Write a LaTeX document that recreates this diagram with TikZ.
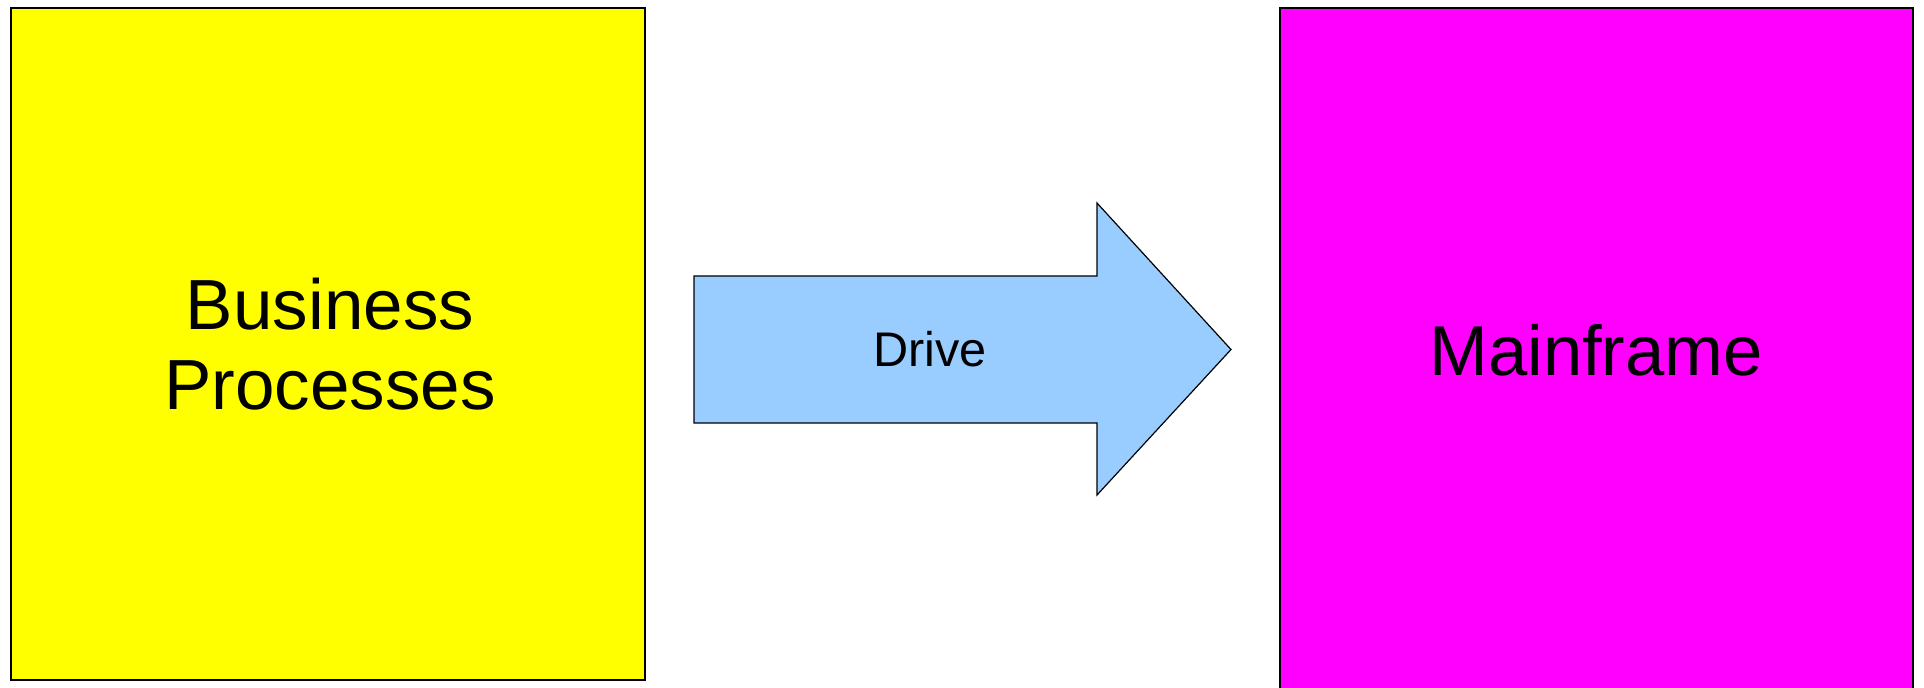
\documentclass[tikz,border=0pt]{standalone}
\usepackage{fontspec}
\setmainfont{Liberation Sans}
\definecolor{arrowblue}{HTML}{99CCFF}
\definecolor{boxyellow}{HTML}{FFFF00}
\definecolor{boxmagenta}{HTML}{FF00FF}
\tikzset{
	box/.style={draw=black, line width=1pt, inner sep=0pt, align=center},
	label/.style={inner sep=0pt, align=center}
}
\begin{document}
\begin{tikzpicture}[x=0.5pt, y=-0.5pt]
		\useasboundingbox (0,0) rectangle (1924,687);
		% Left box
		\node[box, fill=boxyellow, minimum width=317pt, minimum height=336pt] (business) at (328,344) {};
		\node[label, font=\fontsize{35.5}{40}\selectfont] (bp) at (330,344) {Business\\Processes};
		% Right box
		\node[box, fill=boxmagenta, minimum width=316.5pt, minimum height=346pt] (mainframe) at (1596.5,354) {};
		\node[label, font=\fontsize{35.3}{42}\selectfont] (mf) at (1596,350) {Mainframe};
		% Arrow
		\filldraw[fill=arrowblue, draw=black, line width=0.6pt] (694,276) -- (1097,276) -- (1097,203) -- (1231,349.5) -- (1097,495) -- (1097,423) -- (694,423) -- cycle;
		\node[label, font=\fontsize{24.3}{28}\selectfont] (drive) at (930,349) {Drive};
	\end{tikzpicture}
\end{document}
